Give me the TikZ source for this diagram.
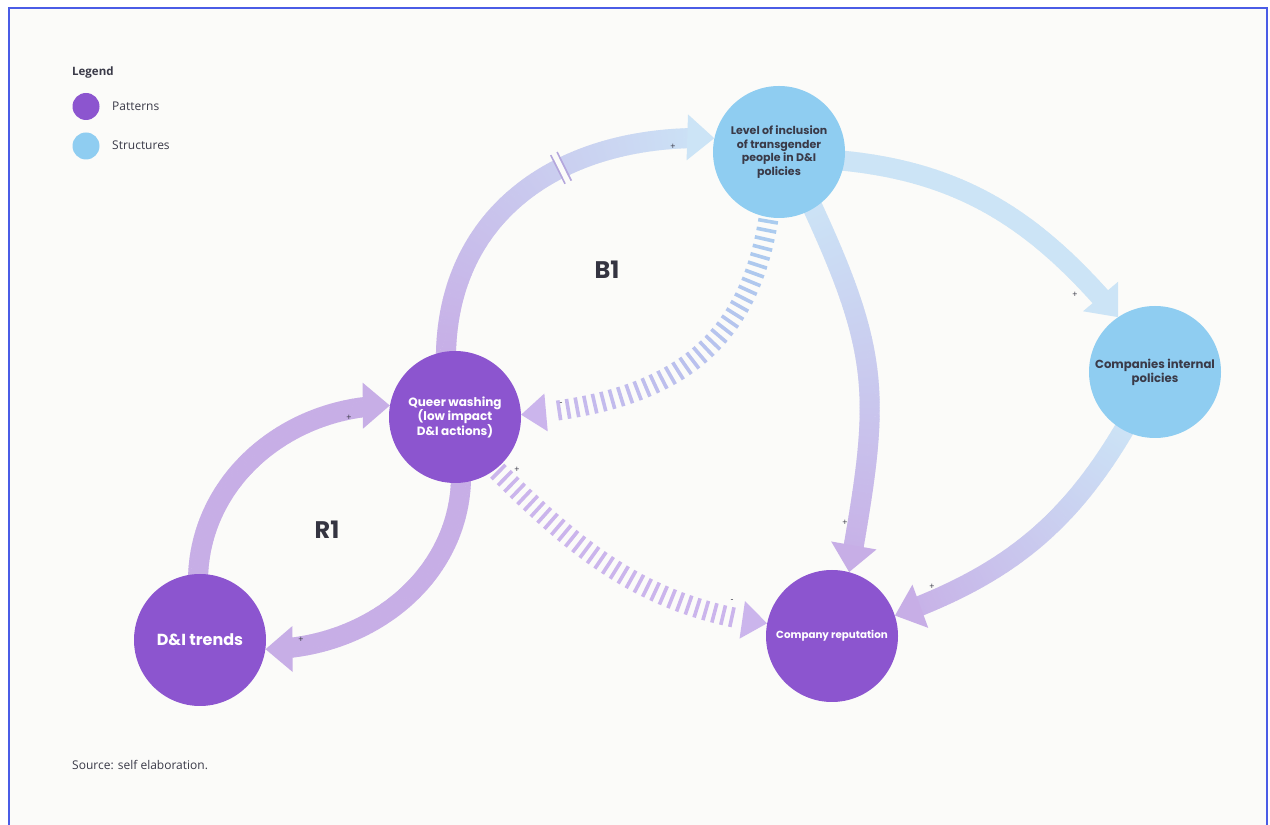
\documentclass[tikz,border=0pt]{standalone}
\usepackage{fontspec}
\setmainfont{Open Sans}
\newfontfamily\nodefont{Poppins}
\usetikzlibrary{decorations.markings,calc}
\pgfdeclarelayer{backlayer}
\pgfdeclarelayer{bglayer}
\pgfsetlayers{backlayer,bglayer,main}
\definecolor{bg}{HTML}{FBFBF9}
\definecolor{framec}{HTML}{4A5CE6}
\definecolor{purp}{HTML}{8C55CF}
\definecolor{sky}{HTML}{8FCDF1}
\definecolor{lav}{HTML}{C7AEE6}
\definecolor{pale}{HTML}{CCE4F6}
\definecolor{dlav}{HTML}{CBB5EC}
\definecolor{dblue}{HTML}{A9CDEF}
\definecolor{barc}{HTML}{B4A6DC}
\definecolor{txt}{HTML}{3A3A48}
\tikzset{
  pcirc/.style={circle, fill=purp, minimum size=132pt, inner sep=0pt, text=white, align=center,
    font=\nodefont\bfseries\fontsize{12}{14.5}\selectfont},
  scirc/.style={circle, fill=sky, minimum size=132pt, inner sep=0pt, text=txt, align=center,
    font=\nodefont\bfseries\fontsize{11}{13.5}\selectfont},
  sign/.style={font=\fontsize{9}{9}\selectfont, text=txt, inner sep=0pt},
  looplabel/.style={font=\nodefont\bfseries\fontsize{24}{24}\selectfont, text=txt!90!black, inner sep=0pt},
  legtext/.style={anchor=west, inner sep=0pt, text=txt, font=\fontsize{12}{14}\selectfont},
  band/.style n args={2}{postaction={decorate,decoration={markings,
     mark=between positions 0 and -24pt step 1.5pt with {
        \pgfmathsetmacro\bandfr{\pgfkeysvalueof{/pgf/decoration/mark info/distance from start}/\pgfdecoratedpathlength*100}
        \colorlet{bandc}{#2!\bandfr!#1}
        \fill[bandc] (-1pt,-10pt) rectangle (1pt,10pt);}}},
     postaction={decorate,decoration={markings,
     mark=at position -1.5pt with {\fill[#2] (1.5pt,0pt) -- (-25.5pt,23pt) -- (-25.5pt,-23pt) -- cycle;}}}},
  dband/.style n args={2}{postaction={decorate,decoration={markings,
     mark=between positions 12pt and -30pt step 9pt with {
        \pgfmathsetmacro\bandfr{\pgfkeysvalueof{/pgf/decoration/mark info/distance from start}/\pgfdecoratedpathlength*100}
        \colorlet{bandc}{#2!\bandfr!#1}
        \fill[bandc] (-1.8pt,-10pt) rectangle (1.8pt,10pt);}}},
     postaction={decorate,decoration={markings,
     mark=at position -1.5pt with {\fill[#2] (1.5pt,0pt) -- (-23.5pt,19pt) -- (-23.5pt,-19pt) -- cycle;}}}},
  delay/.style={postaction={decorate,decoration={markings,
     mark=at position #1 with {
        \fill[bg] (-2.5pt,-16pt) rectangle (2.5pt,16pt);
        \draw[barc, line width=1.6pt] (-3.5pt,-16pt) -- (-3.5pt,16pt) (3.5pt,-16pt) -- (3.5pt,16pt);}
  }}},
}
\begin{document}
\begin{tikzpicture}[x=1pt,y=1pt]
\useasboundingbox (0,0) rectangle (1270,825);
\begin{pgfonlayer}{backlayer}
\fill[white] (0,0) rectangle (1270,825);
\fill[bg] (8,0) rectangle (1267,817);
\draw[framec, line width=2pt] (8.5,0) -- (8.5,816.5) -- (1266.5,816.5) -- (1266.5,0);
\end{pgfonlayer}

% legend
\node[legtext, font=\bfseries\fontsize{11.5}{13}\selectfont] (leg) at (72,752) {Legend};
\node[circle, fill=purp, minimum size=27pt, inner sep=0pt] (legp) at (86,718.5) {};
\node[legtext] (legpt) at (112,719) {Patterns};
\node[circle, fill=sky, minimum size=27pt, inner sep=0pt] (legs) at (86,679) {};
\node[legtext] (legst) at (112,680) {Structures};
\node[legtext] (src) at (72,60) {Source: self elaboration.};

% nodes
\node[scirc] (lvl) at (779,673) {Level of inclusion\\of transgender\\people in D\&I\\policies};
\node[scirc, font=\nodefont\bfseries\fontsize{11.7}{14}\selectfont] (comp) at (1155,453) {Companies internal\\policies};
\node[pcirc] (qw) at (455,408) {Queer washing\\(low impact\\D\&I actions)};
\node[pcirc, font=\nodefont\bfseries\fontsize{16}{18}\selectfont] (dit) at (200,185) {D\&I trends};
\node[pcirc, font=\nodefont\bfseries\fontsize{10.3}{12}\selectfont] (rep) at (832,189) {Company reputation};

% loop labels
\node[looplabel] (b1) at (607,555) {B1};
\node[looplabel] (r1) at (327,295) {R1};

% connectors
\begin{pgfonlayer}{bglayer}
\path[band={lav}{pale}, delay=0.6] ($(qw.99)!8pt!(qw)$) to[out=90,in=178,looseness=1.1] (lvl.168);
\path[band={pale}{pale}] ($(lvl.-8)!8pt!(lvl)$) to[out=-5,in=130] (comp.124);
\path[band={pale}{lav}] ($(lvl.-58)!8pt!(lvl)$) to[out=-65,in=80,looseness=1.2] (rep.75);
\path[band={pale}{lav}] ($(comp.-118)!8pt!(comp)$) to[out=-120,in=20] (rep.18);
\path[band={lav}{lav}] ($(qw.-84)!8pt!(qw)$) to[out=-90,in=0] (dit.-8);
\path[band={lav}{lav}] ($(dit.92)!8pt!(dit)$) to[out=90,in=180] (qw.170);
\path[dband={dblue}{dlav}] ($(lvl.-99)!8pt!(lvl)$) to[out=-98,in=5,looseness=1.15] (qw.2);
\path[dband={dlav}{dlav}] ($(qw.-53)!8pt!(qw)$) to[out=-45,in=172] (rep.169);
\end{pgfonlayer}

% polarity signs
\node[sign] (s1) at (673,678) {+};
\node[sign] (s2) at (1075,530) {+};
\node[sign] (s3) at (845,302) {+};
\node[sign] (s4) at (932,238) {+};
\node[sign] (s5) at (301,185) {+};
\node[sign] (s6) at (349,407) {+};
\node[sign] (s7) at (561,421) {-};
\node[sign] (s8) at (517,355) {+};
\node[sign] (s9) at (732,224) {-};
\end{tikzpicture}
\end{document}
